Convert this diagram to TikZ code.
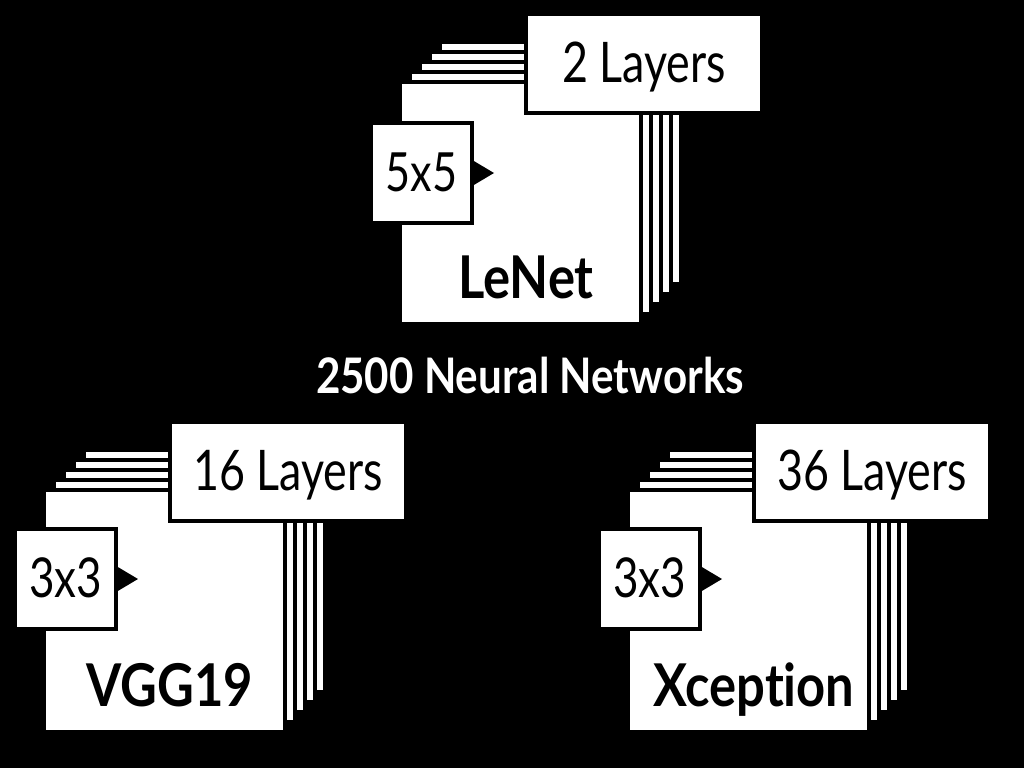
\documentclass[tikz,border=0pt]{standalone}
\usepackage{fontspec}
\setmainfont{Lato}[FakeStretch=0.8, Ligatures={NoCommon}]
\newfontfamily\boldcond{Lato Bold}[FakeStretch=0.86, Ligatures={NoCommon}]
\newcommand\netstack[8]{% #1 prefix, #2 x0, #3 y0, #4 layers, #5 kernel, #6 name, #7 kernel y, #8 kernel text size
  \begin{scope}[shift={(#2,#3)}]
    \foreach \k in {4,3,2,1}{
      \node[sheet, anchor=north west] (#1s\k) at (10*\k-3,-10*\k-3) {};
    }
    \node[sheet, anchor=north west] (#1s0) at (-3,-3) {};
    \node[labbox] (#1lab) at (243,-19.5) {#4};
    \node[kerbox, font=\fontsize{#8}{#8}\selectfont] (#1ker) at (20.5,#7) {#5};
    \fill[black] (#1ker.east) ++(-1,-12.5) -- ++(21,12.5) -- ++(-21,12.5) -- cycle;
    \node[namefont, anchor=base] (#1name) at (125,215) {#6};
  \end{scope}}
\begin{document}
\begin{tikzpicture}[x=1pt,y=-1pt,
  sheet/.style={draw=black, fill=white, line width=4pt, minimum width=241pt, minimum height=242pt, inner sep=0pt},
  labbox/.style={draw=black, fill=white, line width=4pt, minimum width=236pt, minimum height=99pt, inner sep=0pt,
    text height=38pt, text depth=0pt, font=\fontsize{56}{56}\selectfont, text=black},
  kerbox/.style={draw=black, fill=white, line width=4pt, minimum width=101pt, minimum height=100pt, inner sep=0pt,
    text height=37pt, text depth=0pt, text=black},
  namefont/.style={font=\fontsize{59}{59}\selectfont\boldcond, text=black, inner sep=0pt},
  headfont/.style={font=\fontsize{49}{49}\selectfont\boldcond, text=white, inner sep=0pt}]
\fill[black] (0,0) rectangle (1024,768);
\useasboundingbox (0,0) rectangle (1024,768);
\netstack{le}{401}{83}{2 Layers}{5x5}{LeNet}{90}{54}
\netstack{vg}{45}{491}{16 Layers}{3x3}{VGG19}{88}{55}
\netstack{xc}{629}{491}{36 Layers}{3x3}{Xception}{88}{55}
\node[headfont, anchor=base] (head) at (530,393) {2500 Neural Networks};
\end{tikzpicture}
\end{document}
